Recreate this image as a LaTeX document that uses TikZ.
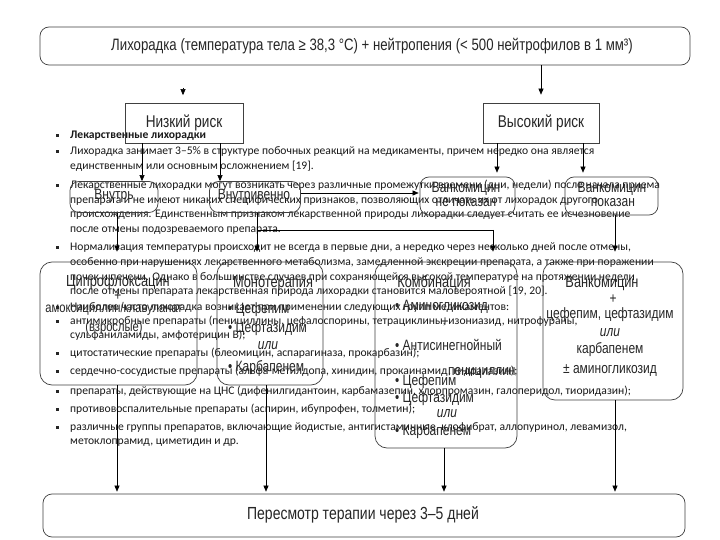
\documentclass[tikz,border=0pt]{standalone}
\usepackage{fontspec}
\setmainfont{Carlito}
\newfontfamily\nar[FakeStretch=0.8]{Liberation Sans}
\usetikzlibrary{arrows.meta}
\tikzset{
 bx/.style={draw=black!75, line width=0.7pt, inner sep=0pt},
 rbx/.style={bx, rounded corners=9pt},
 lb/.style={font=\nar\fontsize{15}{17}\selectfont, text=black!85, inner sep=0pt, text height=10.5pt, text depth=3pt},
 lbw/.style={lb, anchor=west},
 arr/.style={draw=black, line width=0.6pt, -{Triangle[length=6pt,width=5pt]}},
 ln/.style={draw=black, line width=0.6pt},
 tx/.style={font=\fontsize{11.6}{13}\selectfont, anchor=west, inner sep=0pt, text=black!90, text height=8.5pt, text depth=2.5pt},
 bu/.style={fill=black!85},
}
\begin{document}
\begin{tikzpicture}[x=1pt,y=-1pt]
\useasboundingbox (0,0) rectangle (720,540);
\fill[white] (0,0) rectangle (720,540);

% ---- bullet text (overlay) ----
\foreach \yy in {136,152,186,247,307,321,353,371,391,409,427}
  \fill[bu] (55.5,\yy-1.5) rectangle ++(3,3);
\node[tx] (t1) at (70,136) {\textbf{Лекарственные лихорадки}};
\node[tx] (t2) at (70,152) {Лихорадка занимает 3–5\% в структуре побочных реакций на медикаменты, причем нередко она является};
\node[tx] (t3) at (70,167) {единственным или основным осложнением [19].};
\node[tx] (t4) at (70,186) {Лекарственные лихорадки могут возникать через различные промежутки времени (дни, недели) после начала приема};
\node[tx] (t5) at (70,201) {препарата и не имеют никаких специфических признаков, позволяющих отличать их от лихорадок другого};
\node[tx] (t6) at (70,215) {происхождения. Единственным признаком лекарственной природы лихорадки следует считать ее исчезновение};
\node[tx] (t7) at (70,230) {после отмены подозреваемого препарата.};
\node[tx] (t8) at (70,247) {Нормализация температуры происходит не всегда в первые дни, а нередко через несколько дней после отмены,};
\node[tx] (t9) at (70,262) {особенно при нарушениях лекарственного метаболизма, замедленной экскреции препарата, а также при поражении};
\node[tx] (t10) at (70,277) {почек и печени. Однако в большинстве случаев при сохраняющейся высокой температуре на протяжении недели};
\node[tx] (t11) at (70,291) {после отмены препарата лекарственная природа лихорадки становится маловероятной [19, 20].};
\node[tx] (t12) at (70,307) {Наиболее часто лихорадка возникает при применении следующих групп медикаментов:};
\node[tx] (t13) at (70,321) {антимикробные препараты (пенициллины, цефалоспорины, тетрациклины, изониазид, нитрофураны,};
\node[tx] (t14) at (70,335) {сульфаниламиды, амфотерицин В);};
\node[tx] (t15) at (70,353) {цитостатические препараты (блеомицин, аспарагиназа, прокарбазин);};
\node[tx] (t16) at (70,371) {сердечно-сосудистые препараты (альфа-метилдопа, хинидин, прокаинамид, гидралазин);};
\node[tx] (t17) at (70,391) {препараты, действующие на ЦНС (дифенилгидантоин, карбамазепин, хлорпромазин, галоперидол, тиоридазин);};
\node[tx] (t18) at (70,409) {противовоспалительные препараты (аспирин, ибупрофен, толметин);};
\node[tx] (t19) at (70,427) {различные группы препаратов, включающие йодистые, антигистаминные, клофибрат, аллопуринол, левамизол,};
\node[tx] (t20) at (70,441) {метоклопрамид, циметидин и др.};

% ---- boxes ----
\node[rbx, minimum width=650pt, minimum height=38pt] (top) at (365,46) {};
\node[lb, font=\nar\fontsize{16.5}{18}\selectfont] (topt) at (372,47) {Лихорадка (температура тела ≥ 38,3 °С) + нейтропения (< 500 нейтрофилов в 1 мм³)};
\node[bx, minimum width=118pt, minimum height=40pt, font=\nar\fontsize{17}{19}\selectfont, text=black!85] (low) at (184,123) {Низкий риск};
\node[bx, minimum width=116pt, minimum height=40pt, font=\nar\fontsize{17}{19}\selectfont, text=black!85] (high) at (541,123) {Высокий риск};

\node[rbx, minimum width=88pt, minimum height=31pt] (vin) at (114,197) {};
\node[lb] (vint) at (114,196) {Внутрь};
\node[rbx, minimum width=91pt, minimum height=31pt] (viv) at (255,197) {};
\node[lb] (vivt) at (254,196) {Внутривенно};
\node[rbx, minimum width=95pt, minimum height=38pt] (vnp) at (467.5,196) {};
\node[lb] (vnpa) at (466,189) {Ванкомицин};
\node[lb] (vnpb) at (466,203) {не показан};
\node[rbx, minimum width=93pt, minimum height=38pt] (vp) at (611.5,196) {};
\node[lb] (vpa) at (612,189) {Ванкомицин};
\node[lb] (vpb) at (613,203) {показан};

\node[rbx, rounded corners=12pt, minimum width=157pt, minimum height=123pt] (cip) at (118.5,323.5) {};
\node[lb, font=\nar\fontsize{16}{18}\selectfont] (cip1) at (118,283) {Ципрофлоксацин};
\node[lb] (cip2) at (118,297) {+};
\node[lb, font=\nar\fontsize{14}{16}\selectfont] (cip3) at (114,309) {амоксициллин/клавуланат};
\node[lb, font=\nar\fontsize{14}{16}\selectfont] (cip4) at (114,328) {(взрослые)};

\node[rbx, rounded corners=12pt, minimum width=106pt, minimum height=123pt] (mono) at (270,323.5) {};
\node[lb, font=\nar\fontsize{16}{18}\selectfont] (mono0) at (273,284) {Монотерапия};
\node[lbw] (mono1) at (228,310) {• Цефепим};
\node[lbw] (mono2) at (228,329) {• Цефтазидим};
\node[lb] (mono3) at (268,346) {\itshape или};
\node[lbw] (mono4) at (228,368) {• Карбапенем};

\node[rbx, rounded corners=12pt, minimum width=142pt, minimum height=186pt] (comb) at (446,355) {};
\node[lb, font=\nar\fontsize{16}{18}\selectfont] (comb0) at (434,284) {Комбинация};
\node[lbw] (comb1) at (395,307) {• Аминогликозид};
\node[lb] (comb2) at (445,323) {+};
\node[lbw] (comb3) at (395,347) {• Антисинегнойный};
\node[lbw] (comb4) at (448,372) {пенициллин};
\node[lbw] (comb5) at (395,382) {• Цефепим};
\node[lbw] (comb6) at (395,399) {• Цефтазидим};
\node[lb] (comb7) at (447,414) {\itshape или};
\node[lbw] (comb8) at (395,432) {• Карбапенем};

\node[rbx, rounded corners=12pt, minimum width=140pt, minimum height=138pt] (vpl) at (613,331) {};
\node[lb, font=\nar\fontsize{16}{18}\selectfont] (vpl0) at (602,284) {Ванкомицин};
\node[lb] (vpl1) at (613,300) {+};
\node[lb] (vpl2) at (610,315) {цефепим, цефтазидим};
\node[lb] (vpl3) at (610,333) {\itshape или};
\node[lb] (vpl4) at (610,350) {карбапенем};
\node[lb] (vpl5) at (610,370) {± аминогликозид};

\node[rbx, minimum width=642pt, minimum height=43pt] (bot) at (364,515.5) {};
\node[lb, font=\nar\fontsize{17.5}{19}\selectfont] (bott) at (363,516) {Пересмотр терапии через 3–5 дней};

% ---- connectors ----
\coordinate (a0) at (183,88);
\draw[arr] (a0) -- (183,0 |- low.north) [shorten >=7.5pt];
\draw[arr, shorten >=8pt] (541,0 |- top.south) -- (541,0 |- high.north);
\draw[arr] (142,0 |- low.south) -- (142,0 |- vin.north);
\draw[arr] (220,0 |- low.south) -- (220,0 |- viv.north);
\draw[arr, shorten >=4pt] (497,0 |- high.south) -- (497,0 |- vnp.north);
\draw[arr, shorten >=4pt] (583,0 |- high.south) -- (583,0 |- vp.north);
\draw[arr, shorten >=1pt] (viv.east |- 0,193) -- (vnp.west |- 0,193);
\draw[arr, shorten >=10pt] (117,0 |- vin.south) -- (117,0 |- cip.north);
\coordinate (j1) at (257,230);
\coordinate (j2) at (493,230);
\draw[arr, shorten >=10pt] (257,0 |- viv.south) -- (257,0 |- mono.north);
\draw[ln] (j1) -- (j2);
\draw[arr, shorten >=10pt] (j2) -- (j2 |- comb.north);
\draw[arr, shorten >=10pt] (615,0 |- vp.south) -- (615,0 |- vpl.north);
\draw[arr, shorten >=2pt] (117,0 |- cip.south) -- (117,0 |- bot.north);
\draw[arr, shorten >=2pt] (266,0 |- mono.south) -- (266,0 |- bot.north);
\draw[arr, shorten >=2pt] (444,0 |- comb.south) -- (444,0 |- bot.north);
\draw[arr, shorten >=2pt] (615,0 |- vpl.south) -- (615,0 |- bot.north);
\end{tikzpicture}
\end{document}
